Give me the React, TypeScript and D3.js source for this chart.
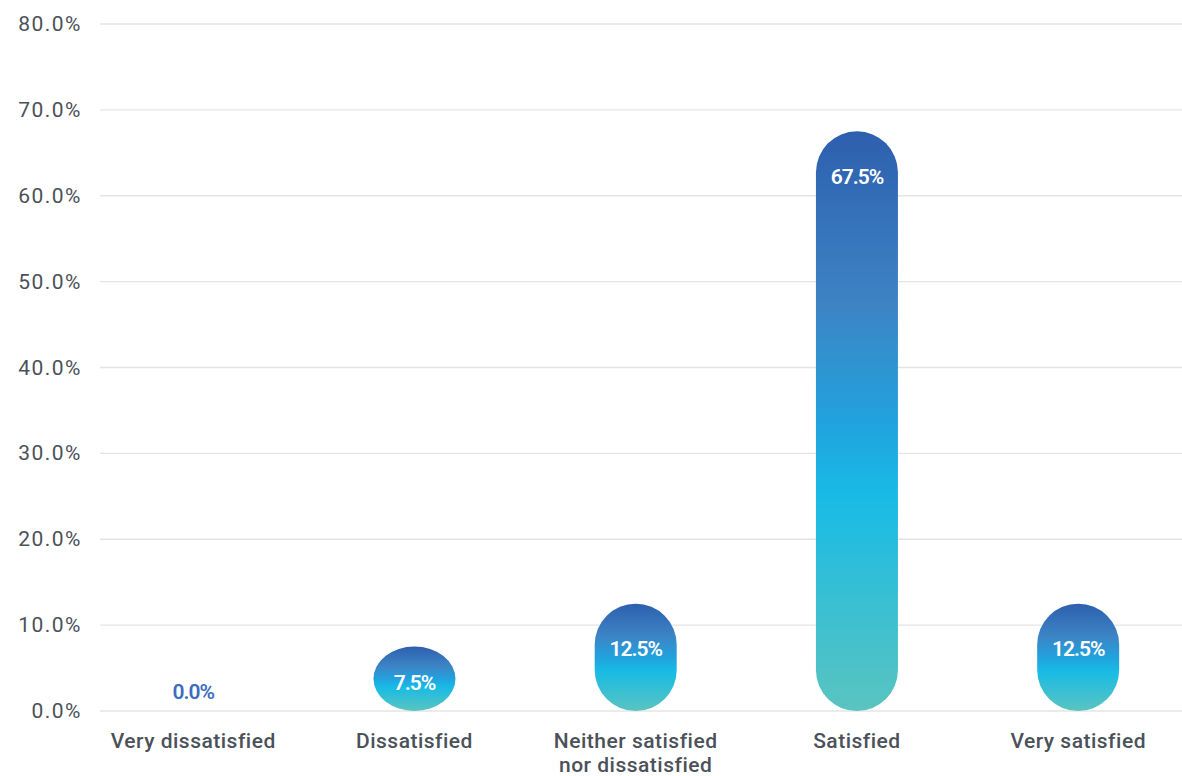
import React from "react";
import * as d3 from "d3";

const categories = ["Very dissatisfied", "Dissatisfied", "Neither satisfied\nnor dissatisfied", "Satisfied", "Very satisfied"];
const values = [0.0, 7.5, 12.5, 67.5, 12.5];
const yTicks = [0, 10, 20, 30, 40, 50, 60, 70, 80];

const W = 1182;
const H = 776;

export default function App() {
  const x = d3.scaleBand<string>().domain(categories).range([82.6, 1188.8]).padding(0);
  const y = d3.scaleLinear().domain([0, 80]).range([711, 24]);
  const barW = 82;
  const fmt = (v: number) => v.toFixed(1) + "%";
  const font = "Roboto, 'Open Sans', sans-serif";

  return (
    <svg width={W} height={H} style={{ position: "absolute", left: 0, top: 0 }}>
      <defs>
        <linearGradient id="barGrad" x1="0" y1="0" x2="0" y2="1">
          <stop offset="0" stopColor="#2d5fae" />
          <stop offset="0.3" stopColor="#3d84c4" />
          <stop offset="0.5" stopColor="#21a2de" />
          <stop offset="0.63" stopColor="#18bbe5" />
          <stop offset="1" stopColor="#5ac4c0" />
        </linearGradient>
      </defs>
      {yTicks.map((t) => (
        <g key={t}>
          <line x1={100} x2={W} y1={y(t)} y2={y(t)} stroke="#e4e4e4" strokeWidth={1.3} />
          <text
            x={82}
            y={y(t)}
            textAnchor="end"
            dominantBaseline="central"
            fontFamily={font}
            fontSize={21}
            letterSpacing={1.5}
            fill="#4b5159"
          >
            {fmt(t)}
          </text>
        </g>
      ))}
      {categories.map((c, i) => {
        const v = values[i];
        const cx = (x(c) as number) + x.bandwidth() / 2;
        const top = y(v);
        const h = y(0) - top;
        const ry = Math.min(barW / 2, h / 2);
        const lines = c.split("\n");
        return (
          <g key={c}>
            {h > 0 && (
              <rect
                x={cx - barW / 2}
                y={top}
                width={barW}
                height={h}
                rx={barW / 2}
                ry={ry}
                fill="url(#barGrad)"
              />
            )}
            {h > 0 ? (
              <text
                x={cx}
                y={top + ry + 4.5}
                textAnchor="middle"
                dominantBaseline="central"
                fontFamily={font}
                fontSize={21}
                fontWeight={600}
                letterSpacing={-1}
                fill="#ffffff"
              >
                {fmt(v)}
              </text>
            ) : (
              <text
                x={cx}
                y={y(0) - 19}
                textAnchor="middle"
                dominantBaseline="central"
                fontFamily={font}
                fontSize={21}
                fontWeight={600}
                letterSpacing={-1}
                fill="#3c6dbf"
              >
                {fmt(v)}
              </text>
            )}
            {lines.map((ln, j) => (
              <text
                key={j}
                x={cx}
                y={741 + j * 24}
                textAnchor="middle"
                dominantBaseline="central"
                fontFamily={font}
                fontSize={21}
                fontWeight={500}
                letterSpacing={0.5}
                fill="#4b5159"
              >
                {ln}
              </text>
            ))}
          </g>
        );
      })}
    </svg>
  );
}
